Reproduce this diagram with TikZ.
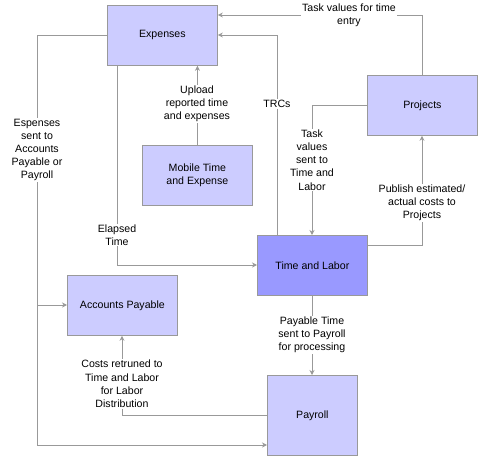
\documentclass[tikz,border=0pt]{standalone}
\usepackage{fontspec}
\setmainfont{Liberation Sans}
\usetikzlibrary{arrows.meta}
\definecolor{boxfill}{HTML}{CCCCFF}
\definecolor{tlfill}{HTML}{9999FF}
\definecolor{edge}{HTML}{999999}
\begin{document}
\begin{tikzpicture}[x=1pt,y=-1pt,
  font=\fontsize{10.6}{13.2}\selectfont,
  box/.style={draw=edge,line width=0.8pt,fill=boxfill,minimum width=110pt,minimum height=60pt,inner sep=0pt,align=center,anchor=north west},
  conn/.style={draw=edge,line width=0.8pt,-{Stealth[length=5pt,width=5pt]}},
  plain/.style={draw=edge,line width=0.8pt},
  lbl/.style={fill=white,inner sep=1pt,align=center}]
\useasboundingbox (0,0) rectangle (483,460);
% boxes
\node[box] (exp) at (107,5) {Expenses};
\node[box] (mob) at (142,145) {Mobile Time\\and Expense};
\node[box] (proj) at (367,75) {Projects};
\node[box,fill=tlfill] (tl) at (257,235) {Time and Labor};
\node[box] (ap) at (67,275) {Accounts Payable};
\node[box,minimum width=90pt,minimum height=80pt] (pay) at (267,375) {Payroll};
% corner coordinates
\coordinate (c1) at (422,15);
\coordinate (c2) at (277,35);
\coordinate (c3) at (37,35);
\coordinate (c4) at (37,445);
\coordinate (c5) at (37,305);
\coordinate (c6) at (117,265);
\coordinate (c7) at (312,105);
\coordinate (c8) at (422,245);
\coordinate (c9) at (122,415);
% connectors
\draw[conn] (proj.north -| c1) -- (c1) -- (c1 -| exp.east);
\draw[conn] (tl.north -| c2) -- (c2) -- (c2 -| exp.east);
\draw[plain] (c3 -| exp.west) -- (c3) -- (c4);
\draw[conn] (c4) -- (c4 -| pay.west);
\draw[conn] (c5) -- (c5 -| ap.west);
\draw[conn] (exp.south -| c6) -- (c6) -- (c6 -| tl.west);
\draw[conn] (mob.north) -- (mob.north |- exp.south);
\draw[conn] (c7 -| proj.west) -- (c7) -- (c7 |- tl.north);
\draw[conn] (c8 -| tl.east) -- (c8) -- (c8 |- proj.south);
\draw[conn] (tl.south -| c7) -- (c7 |- pay.north);
\draw[conn] (c9 -| pay.west) -- (c9) -- (c9 |- ap.south);
% labels
\node[lbl] (l1) at (349,15) {Task values for time\\entry};
\node[lbl] (l2) at (277,104) {TRCs};
\node[lbl] (l3) at (37,150) {Espenses\\sent to\\Accounts\\Payable or\\Payroll};
\node[lbl] (l4) at (117,235) {Elapsed\\Time};
\node[lbl] (l5) at (197,104) {Upload\\reported time\\and expenses};
\node[lbl] (l6) at (312,160) {Task\\values\\sent to\\Time and\\Labor};
\node[lbl] (l7) at (422,203) {Publish estimated/\\actual costs to\\Projects};
\node[lbl] (l8) at (312,335) {Payable Time\\sent to Payroll\\for processing};
\node[lbl] (l9) at (122,384) {Costs retruned to\\Time and Labor\\for Labor\\Distribution};
\end{tikzpicture}
\end{document}
